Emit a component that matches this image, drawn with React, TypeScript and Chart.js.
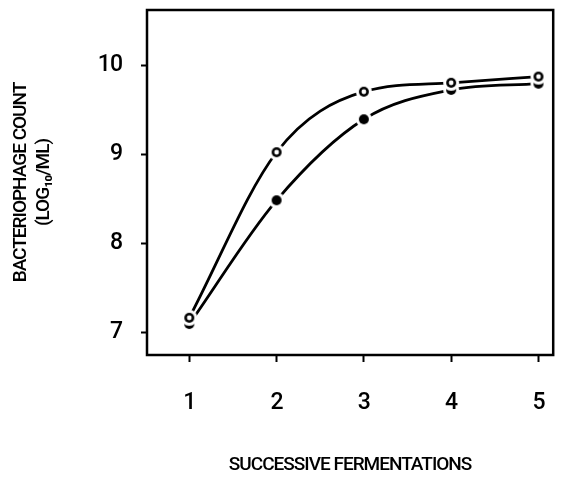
import React, { useEffect, useRef } from "react";
import { Chart, registerables } from "chart.js";
Chart.register(...registerables);

const fermentations = [1, 2, 3, 4, 5];
const openSeries = [7.16, 9.02, 9.7, 9.8, 9.87];
const filledSeries = [7.09, 8.48, 9.39, 9.72, 9.79];
const yTicks = [7, 8, 9, 10];
const xTicks = [1, 2, 3, 4, 5];
const yTitle = ["BACTERIOPHAGE COUNT", "(LOG\u2081\u2080/ML)"];
const xTitle = "SUCCESSIVE FERMENTATIONS";

const FONT = "Roboto, 'DejaVu Sans', sans-serif";

function makeMarker(filled: boolean) {
  const c = document.createElement("canvas");
  c.width = 20;
  c.height = 20;
  const ctx = c.getContext("2d")!;
  ctx.fillStyle = "#fff";
  ctx.beginPath();
  ctx.arc(10, 10, 8, 0, Math.PI * 2);
  ctx.fill();
  ctx.fillStyle = "#000";
  ctx.beginPath();
  ctx.arc(10, 10, 5, 0, Math.PI * 2);
  ctx.fill();
  if (!filled) {
    ctx.fillStyle = "#fff";
    ctx.beginPath();
    ctx.arc(10, 10, 2.4, 0, Math.PI * 2);
    ctx.fill();
  }
  return c;
}

const boxPlugin = {
  id: "box",
  beforeDraw(chart: any) {
    try {
      (chart.ctx as any).letterSpacing = "-1px";
    } catch (e) {}
  },
  beforeDatasetsDraw(chart: any) {
    const { ctx, chartArea } = chart;
    ctx.save();
    ctx.strokeStyle = "#000";
    ctx.lineWidth = 2.5;
    ctx.strokeRect(chartArea.left, chartArea.top, chartArea.right - chartArea.left, chartArea.bottom - chartArea.top);
    ctx.restore();
  },
};

const zeroPad = (s: any) => {
  s.paddingTop = 0;
  s.paddingBottom = 0;
  s.paddingLeft = 0;
  s.paddingRight = 0;
};

export default function App() {
  const ref = useRef<HTMLCanvasElement>(null);
  useEffect(() => {
    const openMarker = makeMarker(false);
    const filledMarker = makeMarker(true);
    const chart = new Chart(ref.current!, {
      type: "line",
      data: {
        datasets: [
          {
            label: "open",
            data: fermentations.map((x, i) => ({ x, y: openSeries[i] })),
            borderColor: "#000",
            borderWidth: 2.8,
            cubicInterpolationMode: "monotone",
            pointStyle: openMarker as any,
            pointRadius: 5,
            clip: false as any,
          },
          {
            label: "filled",
            data: fermentations.map((x, i) => ({ x, y: filledSeries[i] })),
            borderColor: "#000",
            borderWidth: 2.8,
            cubicInterpolationMode: "monotone",
            pointStyle: filledMarker as any,
            pointRadius: 5,
            clip: false as any,
          },
        ],
      },
      options: {
        animation: false,
        responsive: true,
        maintainAspectRatio: false,
        layout: { padding: { top: 10, right: 1, left: 0, bottom: 0 } },
        plugins: { legend: { display: false }, tooltip: { enabled: false } },
        scales: {
          x: {
            type: "linear",
            min: 0.5155,
            max: 5.169,
            afterBuildTicks: (s: any) => {
              s.ticks = xTicks.map((v) => ({ value: v }));
            },
            afterFit: (s: any) => {
              s.height = 123;
              zeroPad(s);
            },
            grid: { display: true, drawOnChartArea: false, drawTicks: true, tickLength: 7, tickColor: "#000", tickWidth: 2 },
            border: { display: false },
            ticks: { color: "#000", font: { family: FONT, size: 23, weight: 500 }, padding: 27, callback: (v: any) => String(v) },
            title: { display: true, text: xTitle, color: "#000", font: { family: FONT, size: 19, weight: 500, lineHeight: 1.2 }, padding: { top: 0, bottom: 1 } },
          },
          y: {
            type: "linear",
            min: 6.742,
            max: 10.618,
            afterBuildTicks: (s: any) => {
              s.ticks = yTicks.map((v) => ({ value: v }));
            },
            afterFit: (s: any) => {
              s.width = 147;
              zeroPad(s);
            },
            grid: { display: true, drawOnChartArea: false, drawTicks: true, tickLength: 6, tickColor: "#000", tickWidth: 2 },
            border: { display: false },
            ticks: { color: "#000", font: { family: FONT, size: 23, weight: 500 }, padding: 19, callback: (v: any) => String(v) },
            title: { display: true, text: yTitle, color: "#000", font: { family: FONT, size: 19, weight: 500, lineHeight: 1.2 }, padding: { top: 10, bottom: 0 } },
          },
        },
      },
      plugins: [boxPlugin],
    });
    return () => chart.destroy();
  }, []);
  return (
    <div style={{ position: "absolute", left: 0, top: 0, width: 561, height: 478, background: "#fff" }}>
      <canvas ref={ref} />
    </div>
  );
}
